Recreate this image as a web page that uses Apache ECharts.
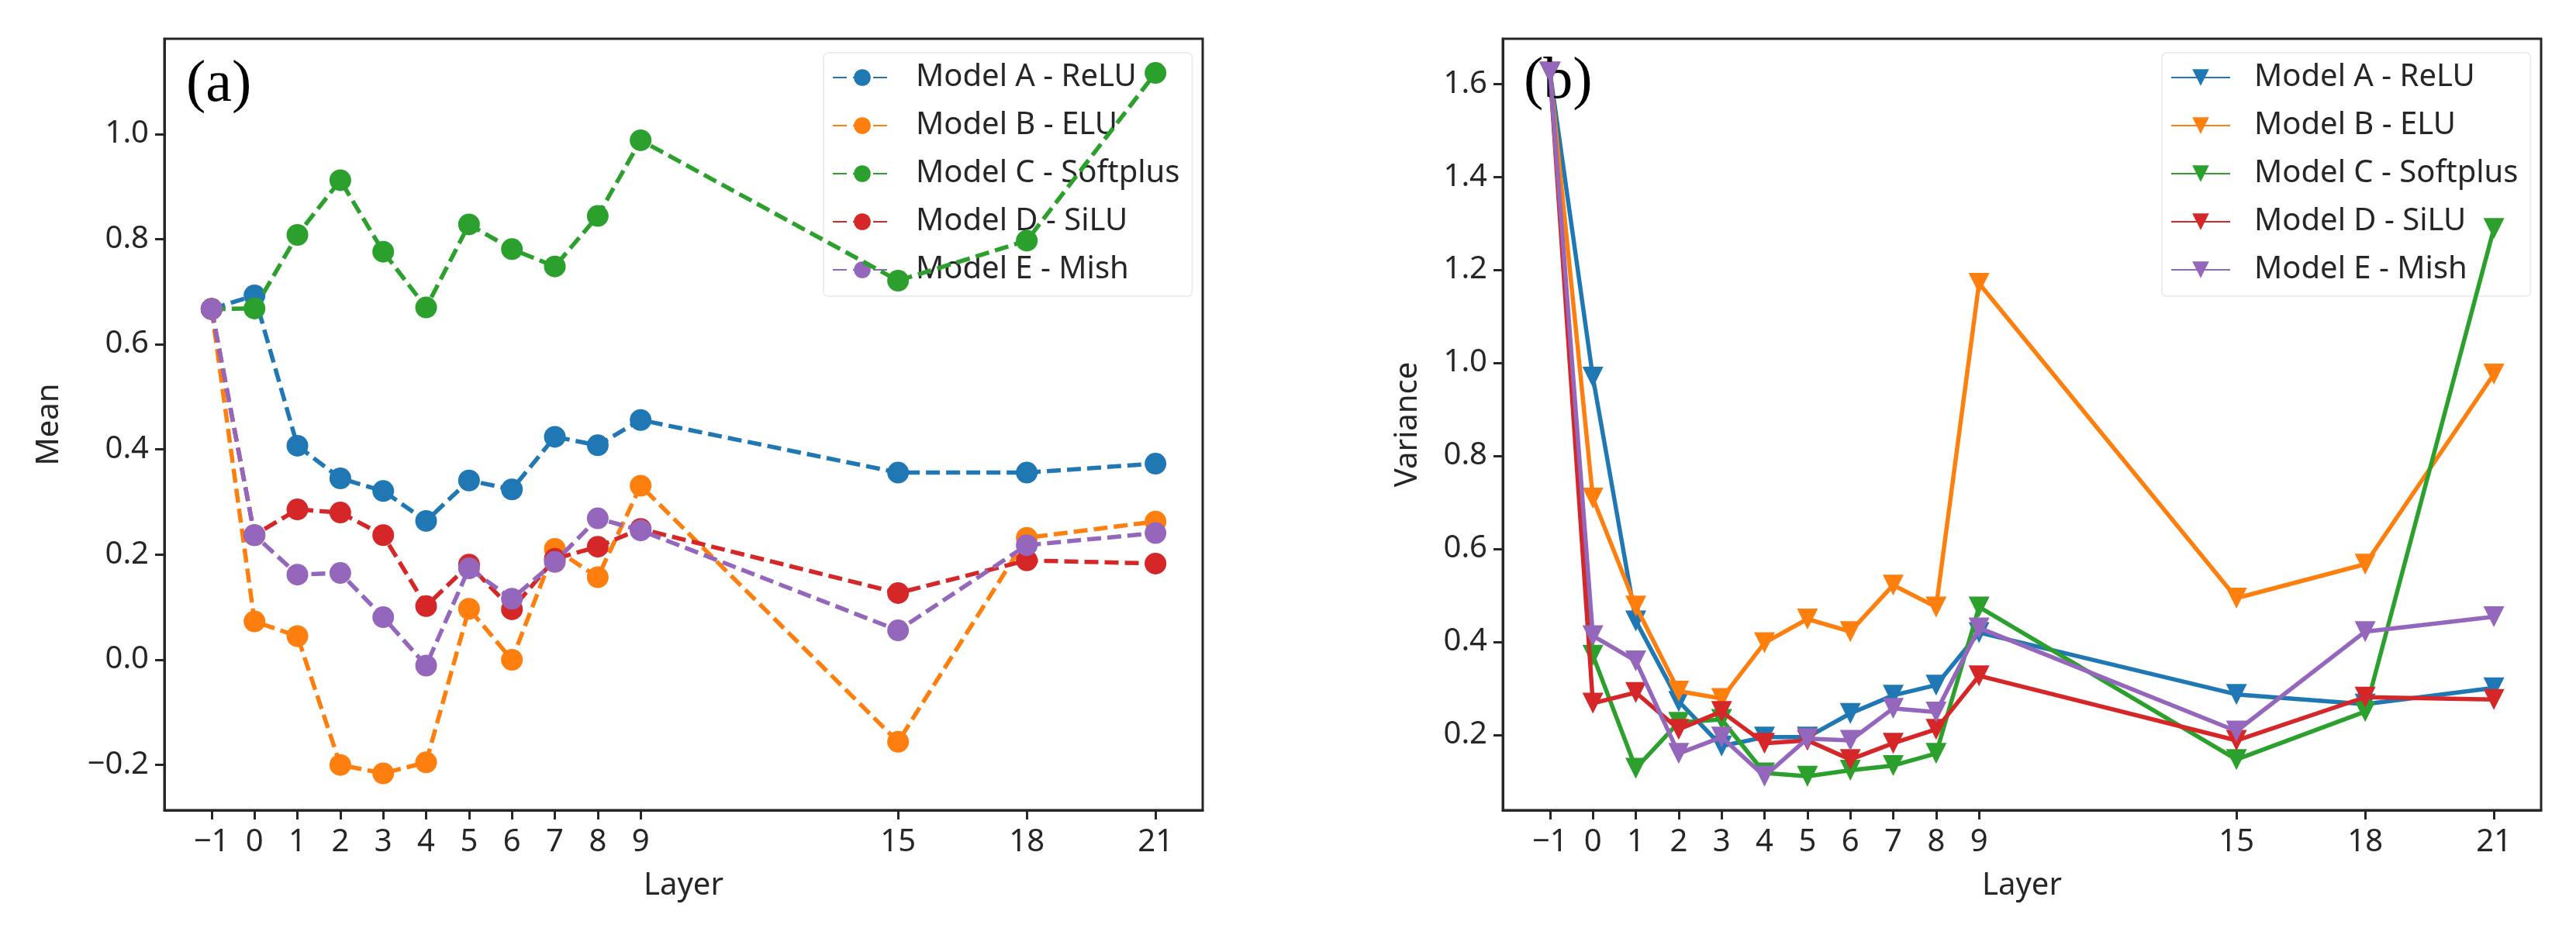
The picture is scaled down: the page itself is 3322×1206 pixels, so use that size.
<!DOCTYPE html>
<html>
<head>
<meta charset="utf-8">
<script src="https://cdn.jsdelivr.net/npm/echarts@6/dist/echarts.min.js"></script>
<style>
  html, body { margin: 0; padding: 0; background: #fff; }
  #chart { width: 3322px; height: 1206px; }
</style>
</head>
<body>
<div id="chart"></div>
<script>
// layers on the x axis (both panels)
const layers = [-1, 0, 1, 2, 3, 4, 5, 6, 7, 8, 9, 15, 18, 21];
const modelNames = ['Model A - ReLU', 'Model B - ELU', 'Model C - Softplus', 'Model D - SiLU', 'Model E - Mish'];
const colors = ['#1f77b4', '#ff7f0e', '#2ca02c', '#d62728', '#9467bd'];

// (a) mean per layer
const meanReLU     = [0.667, 0.693, 0.407, 0.345, 0.321, 0.264, 0.341, 0.324, 0.424, 0.408, 0.456, 0.356, 0.356, 0.373];
const meanELU      = [0.667, 0.073, 0.045, -0.200, -0.216, -0.195, 0.097, 0.000, 0.211, 0.157, 0.331, -0.156, 0.232, 0.263];
const meanSoftplus = [0.667, 0.668, 0.808, 0.912, 0.776, 0.670, 0.828, 0.781, 0.748, 0.844, 0.988, 0.721, 0.797, 1.116];
const meanSiLU     = [0.667, 0.237, 0.286, 0.280, 0.237, 0.102, 0.181, 0.096, 0.192, 0.215, 0.249, 0.127, 0.189, 0.183];
const meanMish     = [0.667, 0.237, 0.162, 0.165, 0.081, -0.011, 0.174, 0.116, 0.186, 0.269, 0.246, 0.056, 0.218, 0.241];

// (b) variance per layer
const varReLU     = [1.625, 0.969, 0.445, 0.272, 0.176, 0.195, 0.195, 0.246, 0.285, 0.307, 0.420, 0.287, 0.266, 0.301];
const varELU      = [1.625, 0.709, 0.477, 0.294, 0.278, 0.398, 0.449, 0.422, 0.522, 0.475, 1.171, 0.494, 0.567, 0.976];
const varSoftplus = [1.625, 0.371, 0.128, 0.227, 0.233, 0.118, 0.111, 0.124, 0.134, 0.160, 0.475, 0.147, 0.250, 1.289];
const varSiLU     = [1.625, 0.268, 0.291, 0.212, 0.250, 0.182, 0.188, 0.147, 0.182, 0.212, 0.327, 0.188, 0.281, 0.276];
const varMish     = [1.625, 0.413, 0.359, 0.160, 0.195, 0.111, 0.192, 0.188, 0.257, 0.249, 0.430, 0.208, 0.422, 0.454];

// tick labels
const xTicks = [-1, 0, 1, 2, 3, 4, 5, 6, 7, 8, 9, 15, 18, 21];
const meanTicks = [-0.2, 0.0, 0.2, 0.4, 0.6, 0.8, 1.0];
const varTicks = [0.2, 0.4, 0.6, 0.8, 1.0, 1.2, 1.4, 1.6];

const meanSets = [meanReLU, meanELU, meanSoftplus, meanSiLU, meanMish];
const varSets = [varReLU, varELU, varSoftplus, varSiLU, varMish];

const FONT = '"Noto Sans", "Open Sans", sans-serif';
const TXT = '#262626';

function minus(v, digits) {
    const s = digits === undefined ? String(Math.abs(v)) : Math.abs(v).toFixed(digits);
    return (v < 0 ? '\u2212' : '') + s;
}

function xAxisFor(gridIndex) {
    return {
        type: 'value', gridIndex: gridIndex,
        min: -2.1, max: 22.1,
        name: 'Layer', nameLocation: 'middle', nameGap: 78,
        nameTextStyle: {fontFamily: FONT, fontSize: 40, color: TXT},
        axisLine: {show: true, onZero: false, lineStyle: {color: TXT, width: 3}},
        axisTick: {show: true, length: 12, lineStyle: {color: TXT, width: 3}, customValues: xTicks},
        axisLabel: {fontFamily: FONT, fontSize: 40, color: TXT, margin: 22, customValues: xTicks,
            formatter: v => minus(v)},
        splitLine: {show: false}
    };
}

function yAxisFor(gridIndex, min, max, ticks, name, gap) {
    return {
        type: 'value', gridIndex: gridIndex,
        min: min, max: max,
        name: name, nameLocation: 'middle', nameGap: gap, nameRotate: 90,
        nameTextStyle: {fontFamily: FONT, fontSize: 40, color: TXT},
        axisLine: {show: true, onZero: false, lineStyle: {color: TXT, width: 3}},
        axisTick: {show: true, length: 12, lineStyle: {color: TXT, width: 3}, customValues: ticks},
        axisLabel: {fontFamily: FONT, fontSize: 40, color: TXT, margin: 20, customValues: ticks,
            formatter: v => minus(v, 1)},
        splitLine: {show: false}
    };
}

const series = [];
modelNames.forEach((name, i) => {
    series.push({
        name: 'mean|' + name, type: 'line', xAxisIndex: 0, yAxisIndex: 0,
        data: layers.map((l, k) => [l, meanSets[i][k]]),
        color: colors[i],
        symbol: 'circle', symbolSize: 28,
        lineStyle: {width: 5.5, type: [18, 8], color: colors[i]},
        itemStyle: {color: colors[i]},
        z: 2 + i
    });
});
modelNames.forEach((name, i) => {
    series.push({
        name: 'var|' + name, type: 'line', xAxisIndex: 1, yAxisIndex: 1,
        data: layers.map((l, k) => [l, varSets[i][k]]),
        color: colors[i],
        symbol: 'triangle', symbolRotate: 180, symbolSize: 27,
        lineStyle: {width: 5.5, type: 'solid', color: colors[i]},
        itemStyle: {color: colors[i]},
        z: 2 + i
    });
});

function legendFor(prefix, left) {
    return {
        orient: 'vertical', left: left, top: 68,
        data: modelNames.map(n => prefix + n),
        formatter: n => n.split('|')[1],
        itemWidth: 76, itemHeight: 27, itemGap: 22,
        padding: [12, 16, 14, 11],
        borderColor: 'rgba(0,0,0,0.07)', borderWidth: 2, borderRadius: 6,
        selectedMode: false,
        textStyle: {fontFamily: FONT, fontSize: 40, color: TXT, lineHeight: 40, padding: [0, 0, 0, 26]}
    };
}

const chart = echarts.init(document.getElementById('chart'));
chart.setOption({
    animation: false,
    backgroundColor: '#fff',
    title: [
        {text: '(a)', left: 240, top: 72, padding: 0,
         textStyle: {fontFamily: '"Liberation Serif", "Times New Roman", serif', fontSize: 76, fontWeight: 'normal', color: '#000'}},
        {text: '(b)', left: 1965, top: 68, padding: 0,
         textStyle: {fontFamily: '"Liberation Serif", "Times New Roman", serif', fontSize: 76, fontWeight: 'normal', color: '#000'}}
    ],
    grid: [
        {left: 212, top: 50, width: 1339, height: 995, show: true, borderColor: TXT, borderWidth: 3, backgroundColor: 'transparent'},
        {left: 1938, top: 50, width: 1339, height: 995, show: true, borderColor: TXT, borderWidth: 3, backgroundColor: 'transparent'}
    ],
    xAxis: [xAxisFor(0), xAxisFor(1)],
    yAxis: [
        yAxisFor(0, -0.286, 1.181, meanTicks, 'Mean', 128),
        yAxisFor(1, 0.038, 1.697, varTicks, 'Variance', 102)
    ],
    legend: [legendFor('mean|', 1062), legendFor('var|', 2788)],
    series: series
});
</script>
</body>
</html>
